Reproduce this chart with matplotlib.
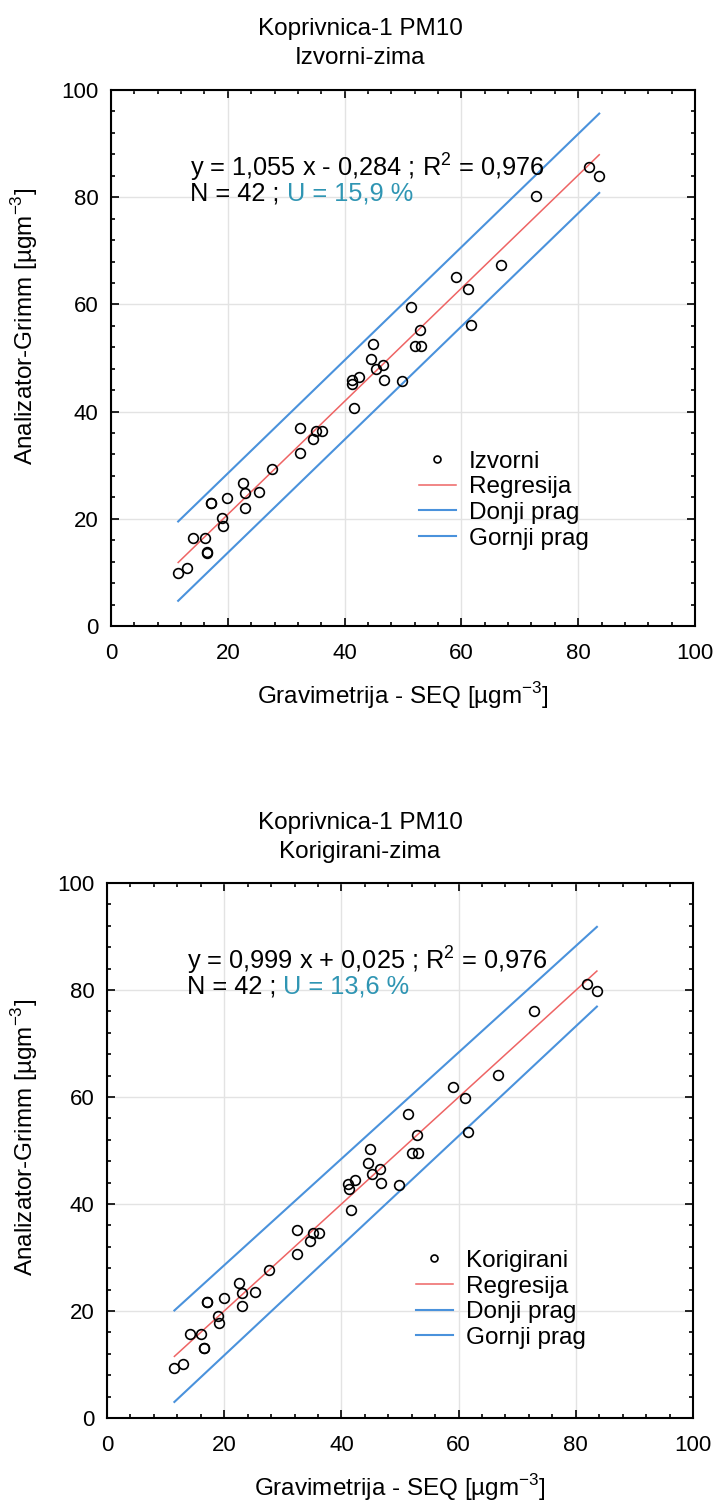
import numpy as np
import matplotlib
matplotlib.use("Agg")
import matplotlib.pyplot as plt
from matplotlib.ticker import MultipleLocator

plt.rcParams['font.family'] = ['Liberation Sans', 'DejaVu Sans']
plt.rcParams['mathtext.fontset'] = 'custom'
plt.rcParams['mathtext.rm'] = 'Liberation Sans'

# gravimetric reference (same days in both panels)
grav = [11.5, 13.0, 14.1, 16.1, 16.5, 16.5, 17.1, 19.0, 19.1, 19.9,
        22.6, 23.0, 23.0, 25.3, 27.6, 32.4, 32.4, 34.6, 35.1, 36.2,
        41.2, 41.3, 42.4, 41.6, 44.9, 44.6, 45.3, 46.6, 46.8, 49.9,
        52.1, 53.1, 52.9, 51.4, 59.0, 61.1, 61.6, 66.7, 72.8, 81.9,
        83.6, 17.1]

# Grimm, original
grimm_izv = [9.9, 10.9, 16.5, 16.5, 13.7, 13.8, 22.9, 20.1, 18.7, 23.8,
             26.7, 24.8, 22.1, 25.0, 29.3, 36.9, 32.2, 34.8, 36.4, 36.4,
             45.9, 45.1, 46.5, 40.7, 52.6, 49.9, 47.9, 48.7, 45.9, 45.8,
             52.2, 52.2, 55.3, 59.6, 65.1, 62.9, 56.2, 67.4, 80.2, 85.6,
             84.0, 22.9]

# Grimm, corrected
grimm_kor = [9.4, 10.1, 15.7, 15.7, 13.0, 13.0, 21.6, 19.1, 17.8, 22.4,
             25.2, 23.3, 20.9, 23.6, 27.7, 35.1, 30.6, 33.1, 34.6, 34.6,
             43.7, 42.8, 44.4, 38.9, 50.2, 47.7, 45.7, 46.5, 43.9, 43.6,
             49.6, 49.6, 52.9, 56.8, 61.8, 59.9, 53.5, 64.1, 76.1, 81.1,
             79.8, 21.6]

# regression and threshold lines (values at first / last x)
fit_izv = (1.055, -0.284)
fit_kor = (0.999, 0.025)
donji_izv = [4.7, 80.8]
gornji_izv = [19.5, 95.6]
donji_kor = [3.0, 76.9]
gornji_kor = [20.1, 91.8]

RED = '#ee6464'
BLUE = '#4a92dc'
FS = 17.5


def panel(ax, y, fit, donji, gornji, label, u, leg_y, ylab_xy):
    x = np.array(grav)
    xe = np.array([x.min(), x.max()])
    ax.grid(True, color='#e3e3e3', lw=1.0)
    ax.set_axisbelow(True)
    ax.plot(xe, fit[0] * xe + fit[1], color=RED, lw=1.1, label='Regresija', zorder=3)
    ax.plot(xe, donji, color=BLUE, lw=1.5, label='Donji prag', zorder=3)
    ax.plot(xe, gornji, color=BLUE, lw=1.5, label='Gornji prag', zorder=3)
    ax.plot(x, y, 'o', ms=7, mfc='none', mec='black', mew=1.2, zorder=4)
    # small marker for the legend
    ax.plot([], [], 'o', ms=5, mfc='none', mec='black', mew=1.2, label=label)

    ax.set_xlim(0, 100)
    ax.set_ylim(0, 100)
    ax.xaxis.set_major_locator(MultipleLocator(20))
    ax.yaxis.set_major_locator(MultipleLocator(20))
    ax.xaxis.set_minor_locator(MultipleLocator(4))
    ax.yaxis.set_minor_locator(MultipleLocator(4))
    ax.tick_params(which='both', direction='in', top=True, right=True,
                   labelsize=16, width=1.2)
    ax.tick_params(axis='x', pad=12)
    ax.tick_params(axis='y', pad=9)
    ax.tick_params(which='major', length=6)
    ax.tick_params(which='minor', length=3)
    for s in ax.spines.values():
        s.set_linewidth(1.5)

    ax.set_xlabel(r'Gravimetrija - SEQ [µgm$^{\mathregular{-3}}$]', fontsize=FS, labelpad=12)
    ax.set_ylabel(r'Analizator-Grimm [µgm$^{\mathregular{-3}}$]', fontsize=FS)
    ax.yaxis.set_label_coords(*ylab_xy)

    sign = '-' if fit[1] < 0 else '+'
    eq = ('y = %s x %s %s ; R$^{\\mathregular{2}}$ = 0,976'
          % (('%.3f' % fit[0]).replace('.', ','), sign,
             ('%.3f' % abs(fit[1])).replace('.', ',')))
    ax.text(13.6, 85.4, eq, fontsize=18.3, va='center', ha='left')
    t = ax.text(13.6, 80.6, 'N = 42 ; ', fontsize=18.3, va='center', ha='left')
    ax.annotate('U = %s %%' % u, xy=(1, 0), xycoords=t, va='bottom', ha='left',
                fontsize=18.3, color='#2f95b3')

    h, l = ax.get_legend_handles_labels()
    order = [3, 0, 1, 2]
    ax.legend([h[i] for i in order], [l[i] for i in order], loc='upper left',
              bbox_to_anchor=(0.507, leg_y), frameon=False, fontsize=FS,
              handlelength=1.5, handletextpad=0.55, labelspacing=0.15,
              borderpad=0)


fig = plt.figure(figsize=(7.2, 15.1), dpi=100)
ax1 = fig.add_axes([111 / 720, 1 - 626 / 1510, 584 / 720, 536 / 1510])
ax2 = fig.add_axes([107 / 720, 1 - 1418 / 1510, 586 / 720, 535 / 1510])

panel(ax1, grimm_izv, fit_izv, donji_izv, gornji_izv, 'Izvorni', '15,9',
      0.35, (-0.122, 0.558))
panel(ax2, grimm_kor, fit_kor, donji_kor, gornji_kor, 'Korigirani', '13,6',
      0.337, (-0.114, 0.525))

# titles are centred on the figure
for y0, sub in [(29, 'Izvorni-zima'), (823, 'Korigirani-zima')]:
    fig.text(0.5, 1 - y0 / 1510, 'Koprivnica-1 PM10', fontsize=FS, ha='center', va='center')
    fig.text(0.5, 1 - (y0 + 29) / 1510, sub, fontsize=FS, ha='center', va='center')

fig.savefig('out.png', dpi=100)
